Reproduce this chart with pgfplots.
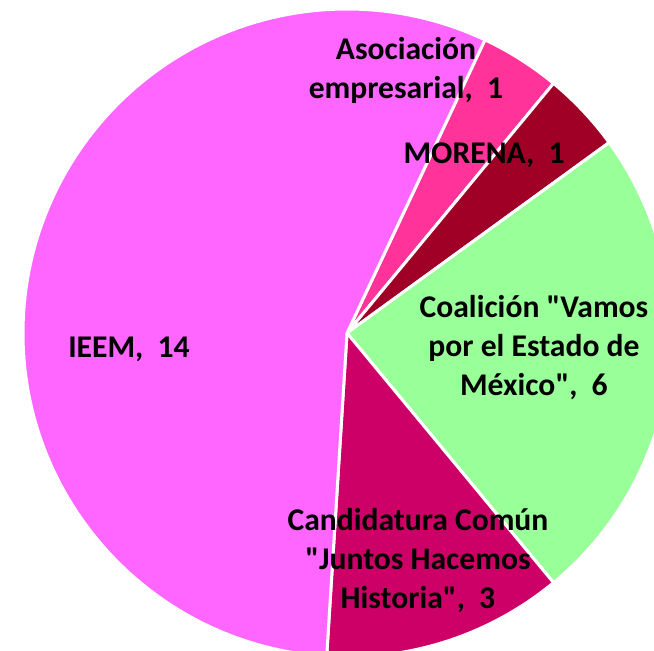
\documentclass[border=0pt]{standalone}
\usepackage{pgfplots}
\pgfplotsset{compat=1.18}
\usepackage{pgfplotstable}
\usepackage{fontspec}
\setmainfont{Carlito}[Ligatures=TeXOff]
\definecolor{asoc}{HTML}{FF3399}
\definecolor{morena}{HTML}{A00025}
\definecolor{coal}{HTML}{99FF99}
\definecolor{cand}{HTML}{CC0066}
\definecolor{ieem}{HTML}{FF66FF}
\newcommand{\q}{{\char34}}
\pgfplotstableread{
value color
1 asoc
1 morena
6 coal
3 cand
14 ieem
}\piedata
\begin{document}
\begin{tikzpicture}
\begin{axis}[
  x=162pt, y=162pt,
  xmin=-1.0710, xmax=0.9475,
  ymin=-0.9784, ymax=1.0278,
  hide axis,
  clip=true,
]
\def\startang{64.8}
\pgfplotsforeachungrouped \i in {0,...,4}{%
  \pgfplotstablegetelem{\i}{value}\of\piedata \let\v\pgfplotsretval
  \pgfplotstablegetelem{\i}{color}\of\piedata \let\c\pgfplotsretval
  \pgfmathsetmacro\endang{\startang-\v*360/25}%
  \edef\temp{\noexpand\fill[\c, draw=white, line width=1.5pt, line join=round] (axis cs:0,0) -- (axis cs:{cos(\startang)},{sin(\startang)}) arc[start angle=\startang, end angle=\endang, radius=162pt] -- cycle;}%
  \temp
  \global\let\startang\endang
}
\addplot[draw=none, mark=none, nodes near coords, point meta=explicit symbolic,
  nodes near coords align={center},
  every node near coord/.append style={align=center, font=\bfseries\fontsize{15.8}{19.5}\selectfont, text=black, inner sep=0pt}]
coordinates {
  (0.182,0.809) [Asociación\\empresarial,\ \ 1]
  (0.423,0.549) [MORENA,\ \ 1]
  (0.577,-0.046) [Coalición \q Vamos\\por el Estado de\\México\q,\ \ 6]
  (0.219,-0.701) [Candidatura Común\\\q Juntos Hacemos\\Historia\q,\ \ 3]
  (-0.673,-0.049) [IEEM,\ \ 14]
};
\coordinate (ll) at (rel axis cs:0,0);
\coordinate (ur) at (rel axis cs:1,1);
\end{axis}
\pgfresetboundingbox
\path[use as bounding box] (ll) rectangle (ur);
\end{tikzpicture}
\end{document}
